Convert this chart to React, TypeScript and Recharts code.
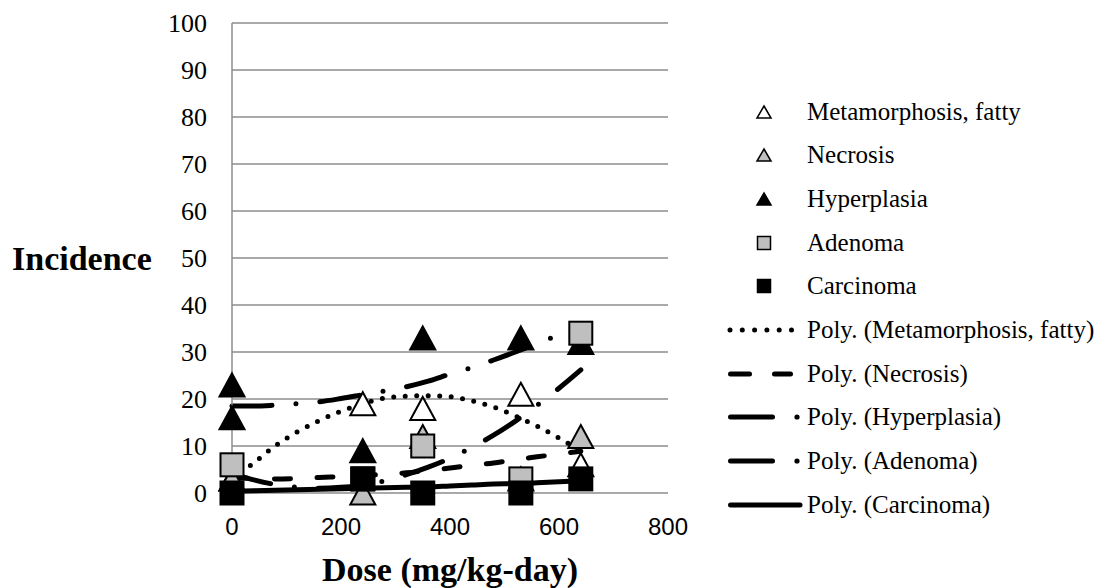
import React from "react";
import {
  ComposedChart,
  Scatter,
  Line,
  XAxis,
  YAxis,
  CartesianGrid,
} from "recharts";

// observed incidence per dose group
const metaDose = [0, 240, 350, 530, 640];
const metaVal = [3, 19, 18, 21, 6];
const necDose = [0, 240, 350, 530, 640];
const necVal = [3, 0, 12, 3, 12];
const hypDose = [0, 0, 240, 350, 530, 640];
const hypVal = [23, 16, 9, 33, 33, 32];
const adeDose = [0, 240, 350, 530, 640];
const adeVal = [6, 3, 10, 3, 34];
const carDose = [0, 240, 350, 530, 640];
const carVal = [0, 3, 0, 0, 3];

// polynomial trend lines
const trendDose = [0, 40, 80, 120, 160, 200, 240, 280, 320, 360, 400, 440, 480, 520, 560, 600, 640];
const metaTrend = [2.9, 6.4, 10.1, 13.0, 15.4, 17.4, 19.0, 20.2, 20.6, 20.7, 20.5, 19.6, 18.3, 16.4, 14.2, 11.7, 9.0];
const necTrend = [3.2, 3.1, 3.0, 3.1, 3.3, 3.5, 3.7, 4.0, 4.3, 4.8, 5.3, 5.9, 6.4, 7.1, 7.7, 8.3, 8.9];
const hypTrend = [18.5, 18.5, 18.7, 19.0, 19.4, 20.1, 20.9, 21.7, 22.6, 23.8, 25.3, 26.7, 28.3, 30.0, 31.8, 33.7, 35.8];
const adeTrend = [4.2, 2.8, 1.8, 1.2, 1.0, 1.2, 1.7, 2.6, 3.9, 5.5, 7.4, 9.7, 12.3, 15.3, 18.7, 22.3, 26.2];
const carTrend = [0.4, 0.5, 0.6, 0.7, 0.8, 0.9, 1.0, 1.1, 1.2, 1.3, 1.5, 1.7, 1.9, 2.0, 2.2, 2.4, 2.6];

const xTicks = [0, 200, 400, 600, 800];
const yTicks = [0, 10, 20, 30, 40, 50, 60, 70, 80, 90, 100];

const seriesNames = ["Metamorphosis, fatty", "Necrosis", "Hyperplasia", "Adenoma", "Carcinoma"];

const pts = (xs: number[], ys: number[]) => xs.map((x, i) => ({ x, y: ys[i] }));

const GRAY = "#bfbfbf";
const GRID = "#8c8c8c";

function triangle(fill: string) {
  return (props: any) => {
    const { cx, cy } = props;
    const w = 25;
    const h = 23;
    return (
      <path
        d={`M${cx},${cy - h / 2} L${cx + w / 2},${cy + h / 2} L${cx - w / 2},${cy + h / 2} Z`}
        fill={fill}
        stroke="#000"
        strokeWidth={2}
        strokeLinejoin="miter"
      />
    );
  };
}

function square(fill: string) {
  return (props: any) => {
    const { cx, cy } = props;
    const s = 23;
    return <rect x={cx - s / 2} y={cy - s / 2} width={s} height={s} fill={fill} stroke="#000" strokeWidth={2} />;
  };
}

const DOTTED = "0 11.5";
const DASHED = "16 26.5";
const DASHDOT = "40 24 0 24";

function LegendIcon({ kind }: { kind: number }) {
  const cy = 22;
  const mx = 39;
  if (kind === 0 || kind === 1 || kind === 2) {
    const fill = kind === 0 ? "#fff" : kind === 1 ? GRAY : "#000";
    return (
      <path d={`M${mx},${cy - 6} L${mx + 7},${cy + 6} L${mx - 7},${cy + 6} Z`} fill={fill} stroke="#000" strokeWidth={1.5} />
    );
  }
  if (kind === 3 || kind === 4) {
    return <rect x={mx - 6.5} y={cy - 6.5} width={13} height={13} fill={kind === 3 ? GRAY : "#000"} stroke="#000" strokeWidth={1.5} />;
  }
  if (kind === 5) {
    return <line x1={5} y1={cy} x2={75} y2={cy} stroke="#000" strokeWidth={5} strokeLinecap="round" strokeDasharray="0 12.3" />;
  }
  if (kind === 6) {
    return (
      <g stroke="#000" strokeWidth={5} strokeLinecap="round">
        <line x1={5.5} y1={cy} x2={24.5} y2={cy} />
        <line x1={49.5} y1={cy} x2={65.5} y2={cy} />
      </g>
    );
  }
  if (kind === 7 || kind === 8) {
    return (
      <g>
        <line x1={5.5} y1={cy} x2={47.5} y2={cy} stroke="#000" strokeWidth={5} strokeLinecap="round" />
        <circle cx={72} cy={cy} r={2.6} fill="#000" />
      </g>
    );
  }
  return <line x1={5.5} y1={cy} x2={75} y2={cy} stroke="#000" strokeWidth={5} strokeLinecap="round" />;
}

function ChartLegend() {
  const labels = [...seriesNames, ...seriesNames.map((n) => `Poly. (${n})`)];
  return (
    <div
      style={{
        position: "absolute",
        left: 725,
        top: 89.8,
        fontFamily: "'Liberation Serif', serif",
        fontSize: 25,
        color: "#000",
      }}
    >
      {labels.map((label, i) => (
        <div key={label} style={{ display: "flex", alignItems: "center", height: 43.7, whiteSpace: "nowrap" }}>
          <svg width={82} height={44} style={{ display: "block" }}>
            <LegendIcon kind={i} />
          </svg>
          <span>{label}</span>
        </div>
      ))}
    </div>
  );
}

export default function App() {
  return (
    <div style={{ position: "absolute", left: 0, top: 0, width: 1099, height: 588, background: "#fff" }}>
      <ComposedChart width={1099} height={588} margin={{ top: 23, right: 431, left: 0, bottom: 0 }}>
        <CartesianGrid vertical={false} stroke={GRID} strokeWidth={1.5} />
        <XAxis
          type="number"
          dataKey="x"
          domain={[0, 800]}
          ticks={xTicks}
          height={95}
          axisLine={false}
          tickLine={false}
          tickSize={0}
          tickMargin={25}
          tick={{ fill: "#000", fontSize: 24, fontFamily: "'Liberation Sans', sans-serif" }}
          label={{
            value: "Dose (mg/kg-day)",
            position: "insideBottom",
            offset: 7,
            fill: "#000",
            fontSize: 34,
            fontWeight: "bold",
            fontFamily: "'Liberation Serif', serif",
          }}
        />
        <YAxis
          type="number"
          dataKey="y"
          domain={[0, 100]}
          ticks={yTicks}
          width={232}
          axisLine={{ stroke: GRID, strokeWidth: 1.5 }}
          tickLine={false}
          tickSize={0}
          tickMargin={25}
          tick={{ fill: "#000", fontSize: 26, fontFamily: "'Liberation Serif', serif" }}
          label={{
            value: "Incidence",
            position: "insideLeft",
            offset: 12,
            angle: 0,
            fill: "#000",
            fontSize: 34,
            fontWeight: "bold",
            fontFamily: "'Liberation Serif', serif",
          }}
        />
        <Scatter name={seriesNames[0]} data={pts(metaDose, metaVal)} dataKey="y" shape={triangle("#fff")} isAnimationActive={false} />
        <Scatter name={seriesNames[1]} data={pts(necDose, necVal)} dataKey="y" shape={triangle(GRAY)} isAnimationActive={false} />
        <Scatter name={seriesNames[2]} data={pts(hypDose, hypVal)} dataKey="y" shape={triangle("#000")} isAnimationActive={false} />
        <Scatter name={seriesNames[3]} data={pts(adeDose, adeVal)} dataKey="y" shape={square(GRAY)} isAnimationActive={false} />
        <Scatter name={seriesNames[4]} data={pts(carDose, carVal)} dataKey="y" shape={square("#000")} isAnimationActive={false} />
        <Line data={pts(trendDose, metaTrend)} dataKey="y" type="monotone" stroke="#000" strokeWidth={5} strokeLinecap="round" strokeDasharray={DOTTED} dot={false} activeDot={false} isAnimationActive={false} />
        <Line data={pts(trendDose, necTrend)} dataKey="y" type="monotone" stroke="#000" strokeWidth={5} strokeLinecap="round" strokeDasharray={DASHED} dot={false} activeDot={false} isAnimationActive={false} />
        <Line data={pts(trendDose, hypTrend)} dataKey="y" type="monotone" stroke="#000" strokeWidth={5} strokeLinecap="round" strokeDasharray={DASHDOT} dot={false} activeDot={false} isAnimationActive={false} />
        <Line data={pts(trendDose, adeTrend)} dataKey="y" type="monotone" stroke="#000" strokeWidth={5} strokeLinecap="round" strokeDasharray={DASHDOT} dot={false} activeDot={false} isAnimationActive={false} />
        <Line data={pts(trendDose, carTrend)} dataKey="y" type="monotone" stroke="#000" strokeWidth={5} strokeLinecap="round" dot={false} activeDot={false} isAnimationActive={false} />
      </ComposedChart>
      <ChartLegend />
    </div>
  );
}
